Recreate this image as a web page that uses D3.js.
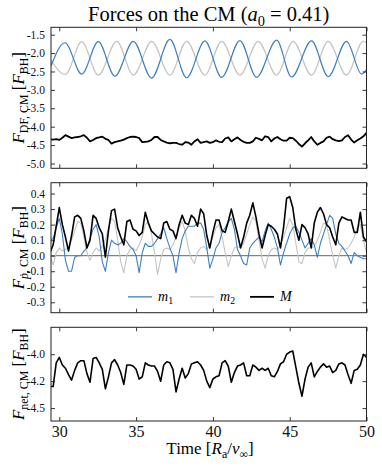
<!DOCTYPE html>
<html><head><meta charset="utf-8">
<script src="https://cdn.jsdelivr.net/npm/d3@7"></script>
<style>
html,body{margin:0;padding:0;background:#fff;}
svg{display:block;font-family:"Liberation Serif","Times New Roman",serif;}
</style></head><body>
<svg id="c" width="382" height="470"></svg>
<script>
// ---------- DATA ----------
const xTicks = [30, 35, 40, 45, 50];
const yTicksDF = [-1.5, -2.0, -2.5, -3.0, -3.5, -4.0, -4.5, -5.0];
const yTicksP = [0.4, 0.3, 0.2, 0.1, 0.0, -0.1, -0.2, -0.3];
const yTicksNet = [-4.0, -4.25, -4.5];
const yTickLabelsNet = ["-4.0", "-4.2", "-4.5"];
const seriesNames = ["m1", "m2", "M"];

// sample times (Ra/v_inf)
const times = d3.range(104).map(i => +(29.4 + 0.2 * i).toFixed(1));

// Panel 1: dynamical-friction force extremes for m1 and m2 (time, value)
const dfM1T = [29.46, 30.37, 31.46, 32.54, 33.62, 34.82, 36.01, 37.2, 38.29, 39.48, 40.57, 41.76, 42.84, 44.15, 45.12, 46.42, 47.51, 48.7, 49.68, 50.0];
const dfM1V = [-2.35, -1.72, -2.57, -1.69, -2.63, -1.68, -2.68, -1.63, -2.67, -1.67, -2.66, -1.66, -2.66, -1.65, -2.65, -1.67, -2.64, -1.68, -2.57, -2.45];
const dfM2T = [29.46, 30.4, 31.46, 32.54, 33.74, 34.82, 36.02, 37.2, 38.29, 39.48, 40.57, 41.76, 42.95, 44.15, 45.22, 46.42, 47.5, 48.7, 49.78, 50.0];
const dfM2V = [-2.2, -2.58, -1.69, -2.6, -1.68, -2.6, -1.68, -2.6, -1.68, -2.6, -1.68, -2.6, -1.68, -2.6, -1.68, -2.6, -1.68, -2.6, -1.68, -1.72];
const dfM = [-4.34,-4.35,-4.34,-4.36,-4.30,-4.23,-4.27,-4.31,-4.29,-4.28,-4.26,-4.23,-4.30,-4.40,-4.36,-4.31,-4.29,-4.27,-4.33,-4.36,
 -4.46,-4.42,-4.40,-4.38,-4.35,-4.31,-4.28,-4.27,-4.28,-4.31,-4.42,-4.41,-4.40,-4.36,-4.28,-4.28,-4.36,-4.40,-4.43,-4.45,
 -4.44,-4.44,-4.47,-4.49,-4.42,-4.43,-4.49,-4.40,-4.34,-4.44,-4.42,-4.40,-4.44,-4.42,-4.37,-4.41,-4.42,-4.32,-4.29,-4.40,
 -4.34,-4.29,-4.36,-4.41,-4.44,-4.44,-4.40,-4.30,-4.33,-4.37,-4.26,-4.28,-4.40,-4.32,-4.28,-4.34,-4.38,-4.38,-4.30,-4.31,
 -4.38,-4.47,-4.54,-4.45,-4.37,-4.28,-4.40,-4.49,-4.44,-4.40,-4.30,-4.27,-4.34,-4.37,-4.39,-4.37,-4.28,-4.23,-4.35,-4.43,
 -4.37,-4.32,-4.26,-4.17];

// Panel 2: pressure (p-dot) force
const pM1 = [0.10,0.11,0.18,0.24,0.14,-0.03,-0.10,-0.10,-0.01,0.0,0.0,0.03,0.05,0.11,0.17,0.20,0.12,-0.04,-0.10,0.02,
 0.10,0.08,0.07,0.08,0.11,0.09,0.06,0.04,0.0,-0.11,0.02,0.08,0.06,0.06,0.08,0.11,0.14,0.18,0.11,0.05,
 0.0,-0.11,0.02,0.11,0.16,0.19,0.19,0.19,0.21,0.21,0.17,0.05,-0.08,-0.02,0.05,0.08,0.15,0.18,0.22,0.24,
 0.17,0.04,0.0,-0.05,-0.06,0.05,0.08,0.10,0.12,0.09,0.16,0.21,0.17,0.12,0.05,-0.06,0.02,0.08,0.14,0.18,
 0.19,0.15,0.10,0.05,0.08,0.11,0.07,-0.01,0.08,0.14,0.20,0.26,0.24,0.14,0.08,0.06,0.03,0.0,-0.05,0.02,
 0.0,-0.01,-0.02,-0.02];
const pM2 = [0.0,-0.06,0.02,0.05,0.03,0.04,0.06,0.10,0.16,0.22,0.21,0.12,0.02,-0.03,0.02,0.05,0.03,0.06,0.10,0.18,
 0.24,0.22,0.10,-0.04,-0.11,0.0,0.04,0.05,0.03,0.07,0.12,0.20,0.22,0.14,0.02,-0.12,-0.02,0.04,0.05,0.04,
 0.07,0.12,0.18,0.22,0.16,0.05,-0.02,-0.05,0.02,0.05,0.06,0.04,0.07,0.12,0.18,0.20,0.12,0.02,-0.07,0.0,
 0.05,0.06,0.05,0.08,0.14,0.20,0.25,0.22,0.10,-0.02,-0.08,0.0,0.04,0.05,0.04,0.07,0.12,0.18,0.24,0.20,
 0.08,-0.04,-0.05,0.02,0.05,0.05,0.06,0.10,0.15,0.21,0.20,0.10,0.0,-0.08,0.0,0.05,0.04,0.05,0.08,0.12,
 0.18,0.20,0.10,0.02];
const pM = [0.02,0.07,0.19,0.31,0.20,0.12,0.03,0.13,0.25,0.26,0.24,0.16,0.05,0.10,0.26,0.24,0.18,0.14,-0.01,0.16,
 0.29,0.30,0.18,0.12,0.07,0.22,0.23,0.17,0.16,0.13,0.15,0.28,0.21,0.16,0.14,0.12,0.11,0.21,0.22,0.17,
 0.16,0.11,0.20,0.26,0.21,0.20,0.26,0.24,0.19,0.30,0.27,0.13,0.05,0.15,0.23,0.23,0.16,0.15,0.22,0.30,
 0.22,0.14,0.05,0.12,0.21,0.26,0.34,0.25,0.14,0.05,0.13,0.20,0.19,0.17,0.14,0.05,0.18,0.37,0.38,0.31,
 0.17,0.10,0.20,0.18,0.14,0.05,0.21,0.28,0.31,0.27,0.20,0.18,0.12,0.07,0.21,0.25,0.24,0.23,0.23,0.15,
 0.15,0.28,0.12,0.09];

// Panel 3: net force on the CM
const netM = [-4.30,-4.30,-4.08,-4.03,-4.10,-4.13,-4.19,-4.24,-4.15,-4.08,-4.06,-4.06,-4.18,-4.26,-4.04,-4.03,-4.08,-4.14,-4.32,-4.21,
 -4.08,-4.05,-4.10,-4.17,-4.28,-4.10,-4.10,-4.11,-4.14,-4.23,-4.21,-4.08,-4.10,-4.11,-4.11,-4.16,-4.25,-4.10,-4.07,-4.08,
 -4.14,-4.35,-4.23,-4.13,-4.22,-4.18,-4.09,-4.08,-4.07,-4.10,-4.15,-4.25,-4.31,-4.23,-4.21,-4.20,-4.08,-4.06,-4.11,-4.26,
 -4.17,-4.11,-4.10,-4.08,-4.20,-4.20,-4.10,-4.12,-4.15,-4.13,-4.15,-4.13,-4.20,-4.21,-4.16,-4.09,-4.07,-4.00,-3.98,-3.97,
 -4.12,-4.27,-4.39,-4.23,-4.12,-4.08,-4.21,-4.16,-4.12,-4.09,-4.12,-4.11,-4.17,-4.15,-4.09,-4.08,-4.10,-4.19,-4.27,-4.15,
 -4.14,-4.10,-4.00,-4.03];

// ---------- DRAW ----------
const svg = d3.select("#c");
const L = 51, R = 366.5;
const C1 = "#3d7fc1", C2 = "#c4c4c4", C3 = "#000";
const x = d3.scaleLinear().domain([29.46, 50]).range([L, R]);
const fmt1 = d => d.toFixed(1);

const panels = [
  {top: 27.3, bot: 168.3, dom: [-5.13, -1.3], ticks: yTicksDF, fmt: fmt1},
  {top: 182.7, bot: 312.7, dom: [-0.367, 0.47], ticks: yTicksP, fmt: fmt1},
  {top: 327.3, bot: 421, dom: [-4.62, -3.75], ticks: yTicksNet, fmt: d => yTickLabelsNet[yTicksNet.indexOf(d)]}
];
panels.forEach((p, k) => {
  p.y = d3.scaleLinear().domain(p.dom).range([p.bot, p.top]);
  svg.append("clipPath").attr("id", "clip" + k).append("rect")
    .attr("x", L).attr("y", p.top).attr("width", R - L).attr("height", p.bot - p.top);
  p.g = svg.append("g").attr("clip-path", `url(#clip${k})`);
});

function styleAxis(g, labels) {
  g.select(".domain").remove();
  g.selectAll(".tick line").attr("stroke", "#222").attr("stroke-width", 0.9);
  g.selectAll(".tick text").attr("fill", "#111").attr("font-family", '"Liberation Serif","Times New Roman",serif');
  if (!labels) g.selectAll(".tick text").remove();
}
function drawLine(p, xs, ys, color, w) {
  const line = d3.line().x((d, i) => x(xs[i])).y(d => p.y(d));
  p.g.append("path").datum(ys).attr("d", line).attr("fill", "none")
    .attr("stroke", color).attr("stroke-width", w).attr("stroke-linejoin", "round");
}
function drawSmooth(p, xs, ys, color, w) {
  const line = d3.line().x((d, i) => x(xs[i])).y(d => p.y(d)).curve(d3.curveMonotoneX);
  p.g.append("path").datum(ys).attr("d", line).attr("fill", "none")
    .attr("stroke", color).attr("stroke-width", w);
}

// Panel 1
drawSmooth(panels[0], dfM2T, dfM2V, C2, 1.2);
drawSmooth(panels[0], dfM1T, dfM1V, C1, 1.2);
drawLine(panels[0], times, dfM, C3, 1.8);
// Panel 2
panels[1].g.append("line").attr("x1", L).attr("x2", R)
  .attr("y1", panels[1].y(0)).attr("y2", panels[1].y(0)).attr("stroke", "#666").attr("stroke-width", 1);
drawLine(panels[1], times, pM2, C2, 1.1);
drawLine(panels[1], times, pM1, C1, 1.1);
drawLine(panels[1], times, pM, C3, 1.6);
// Panel 3
drawLine(panels[2], times, netM, C3, 1.6);

// axes + frames
panels.forEach((p, k) => {
  const last = k === 2;
  const gb = svg.append("g").attr("transform", `translate(0,${p.bot})`)
    .call(d3.axisBottom(x).tickValues(xTicks).tickSize(-4).tickPadding(5).tickFormat(d3.format("d")));
  styleAxis(gb, last);
  gb.selectAll(".tick text").attr("font-size", 16);
  const gt = svg.append("g").attr("transform", `translate(0,${p.top})`)
    .call(d3.axisTop(x).tickValues(xTicks).tickSize(-4));
  styleAxis(gt, false);
  const gl = svg.append("g").attr("transform", `translate(${L},0)`)
    .call(d3.axisLeft(p.y).tickValues(p.ticks).tickSize(-4).tickPadding(6).tickFormat(p.fmt));
  styleAxis(gl, true);
  gl.selectAll(".tick text").attr("font-size", 11.5);
  const gr = svg.append("g").attr("transform", `translate(${R},0)`)
    .call(d3.axisRight(p.y).tickValues(p.ticks).tickSize(-4));
  styleAxis(gr, false);
  svg.append("rect").attr("x", L).attr("y", p.top).attr("width", R - L).attr("height", p.bot - p.top)
    .attr("fill", "none").attr("stroke", "#222").attr("stroke-width", 1);
});

// helper for rich text
function rich(t, parts, size) {
  parts.forEach(pt => {
    const s = t.append("tspan").text(pt.t);
    if (pt.i) s.attr("font-style", "italic");
    if (pt.sub) s.attr("font-size", size * 0.7).attr("dy", size * 0.22);
    if (pt.back) s.attr("dy", -size * 0.22);
  });
}
// Title
{
  const t = svg.append("text").attr("x", (L + R) / 2).attr("y", 21).attr("text-anchor", "middle")
    .attr("font-size", 20.5).attr("fill", "#000");
  rich(t, [{t: "Forces on the CM ("}, {t: "a", i: 1}, {t: "0", sub: 1}, {t: " = 0.41)", back: 1}], 20.5);
}
// Y labels
const ylabels = [
  [{t: "F", i: 1}, {t: "DF, CM", sub: 1}, {t: " [", back: 1}, {t: "F", i: 1}, {t: "BH", sub: 1}, {t: "]", back: 1}],
  [{t: "F", i: 1}, {t: "ṗ", sub: 1, i: 1}, {t: ", CM", sub: 1, cont: 1}, {t: " [", back: 1}, {t: "F", i: 1}, {t: "BH", sub: 1}, {t: "]", back: 1}],
  [{t: "F", i: 1}, {t: "net, CM", sub: 1}, {t: " [", back: 1}, {t: "F", i: 1}, {t: "BH", sub: 1}, {t: "]", back: 1}]
];
panels.forEach((p, k) => {
  const fs = 17;
  const t = svg.append("text").attr("transform", `translate(24,${(p.top + p.bot) / 2}) rotate(-90)`)
    .attr("text-anchor", "middle").attr("font-size", fs).attr("fill", "#000");
  ylabels[k].forEach(pt => {
    const s = t.append("tspan").text(pt.t);
    if (pt.i) s.attr("font-style", "italic");
    if (pt.sub) { s.attr("font-size", fs * 0.7); if (!pt.cont) s.attr("dy", fs * 0.22); }
    if (pt.back) s.attr("dy", -fs * 0.22);
  });
});
// X label
{
  const t = svg.append("text").attr("x", 210).attr("y", 454).attr("text-anchor", "middle")
    .attr("font-size", 17).attr("fill", "#000");
  rich(t, [{t: "Time ["}, {t: "R", i: 1}, {t: "a", sub: 1}, {t: "/", back: 1}, {t: "v", i: 1}, {t: "∞", sub: 1}, {t: "]", back: 1}], 17);
}
// Legend
{
  const ly = panels[1].y(-0.265);
  const items = [[128, C1, 1.3, "1"], [190, C2, 1.3, "2"], [250, C3, 1.8, null]];
  items.forEach(([lx, c, w, sub], k) => {
    svg.append("line").attr("x1", lx).attr("x2", lx + 24).attr("y1", ly).attr("y2", ly)
      .attr("stroke", c).attr("stroke-width", w);
    const t = svg.append("text").attr("x", lx + 30).attr("y", ly + 4.5).attr("font-size", 14).attr("fill", "#000");
    if (sub) rich(t, [{t: "m", i: 1}, {t: sub, sub: 1}], 14);
    else rich(t, [{t: "M", i: 1}], 14);
  });
}
</script>
</body></html>
